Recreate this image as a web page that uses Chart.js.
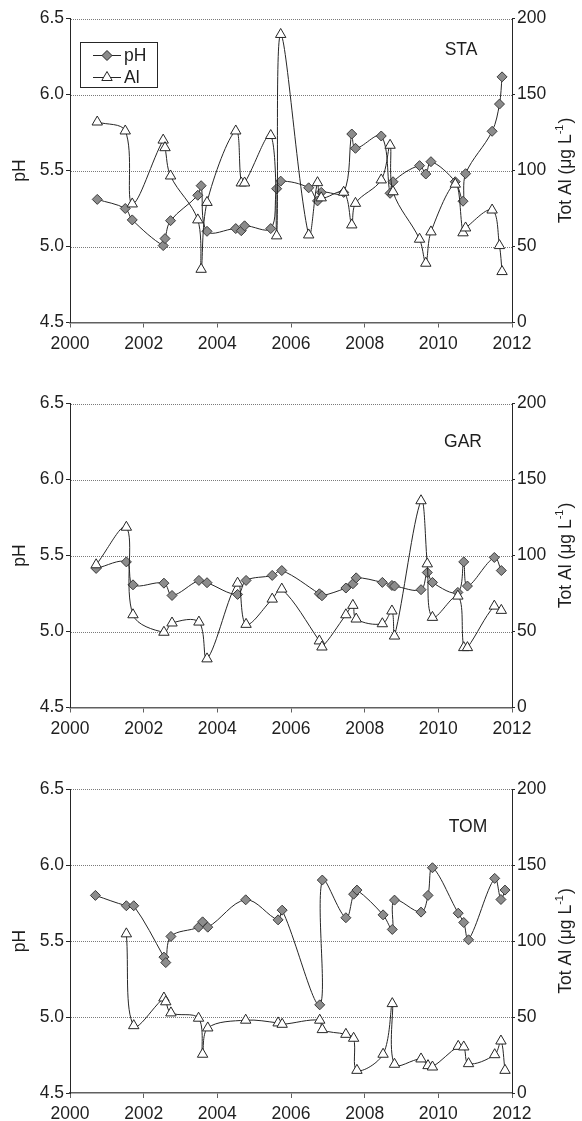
<!DOCTYPE html>
<html>
<head>
<meta charset="utf-8">
<title>pH and total Al at STA, GAR and TOM, 2000–2012</title>
<script src="https://cdn.jsdelivr.net/npm/chart.js@4.4.1/dist/chart.umd.min.js"></script>
<style>
  html, body { margin: 0; padding: 0; background: #fff; }
  body { width: 582px; height: 1121px; position: relative; overflow: hidden; }
  .panel { position: absolute; left: 0; width: 582px; }
  canvas { display: block; }
</style>
</head>
<body>
<div class="panel" style="top:0px;height:370px"><canvas id="sta" width="582" height="370"></canvas></div>
<div class="panel" style="top:385px;height:370px"><canvas id="gar" width="582" height="370"></canvas></div>
<div class="panel" style="top:770px;height:351px"><canvas id="tom" width="582" height="351"></canvas></div>
<script>
// Axis tick labels
const yearTicks = ['2000', '2002', '2004', '2006', '2008', '2010', '2012'];
const phTicks = ['4.5', '5.0', '5.5', '6.0', '6.5'];
const alTicks = ['0', '50', '100', '150', '200'];

// STA: sampling dates (decimal year), pH and total Al (µg/L)
const staDates = [2000.74, 2001.50, 2001.69, 2002.53, 2002.58, 2002.73, 2003.47, 2003.56, 2003.72,
  2004.50, 2004.65, 2004.74, 2005.45, 2005.61, 2005.72, 2006.48, 2006.72, 2006.82, 2007.43,
  2007.65, 2007.75, 2008.45, 2008.69, 2008.77, 2009.49, 2009.66, 2009.80, 2010.46, 2010.67,
  2010.74, 2011.46, 2011.66, 2011.73];
const staPH = [5.31, 5.25, 5.175, 5.006, 5.052, 5.17, 5.337, 5.40, 5.10,
  5.118, 5.104, 5.136, 5.118, 5.38, 5.43, 5.386, 5.30, 5.356, 5.356,
  5.74, 5.646, 5.727, 5.35, 5.426, 5.532, 5.477, 5.558, 5.426, 5.298,
  5.479, 5.758, 5.937, 6.116];
const staAl = [131.9, 126, 78, 120, 115, 96.4, 67.5, 35, 79,
  126, 91.8, 91.8, 123, 57, 189.5, 57.6, 92, 82, 85.7,
  64.2, 78.4, 93.8, 116.6, 86, 54.8, 39, 59.6, 91, 59,
  62.2, 74, 50.6, 33.5];

// GAR
const garDates = [2000.71, 2001.53, 2001.71, 2002.55, 2002.77, 2003.50, 2003.72, 2004.55, 2004.78,
  2005.49, 2005.75, 2006.77, 2006.84, 2007.49, 2007.68, 2007.77, 2008.48, 2008.74, 2008.81,
  2009.53, 2009.70, 2009.84, 2010.53, 2010.69, 2010.79, 2011.52, 2011.71];
const garPH = [5.415, 5.458, 5.307, 5.318, 5.237, 5.336, 5.321, 5.244, 5.336,
  5.369, 5.401, 5.248, 5.235, 5.286, 5.314, 5.353, 5.323, 5.303, 5.299,
  5.275, 5.388, 5.323, 5.257, 5.458, 5.299, 5.487, 5.401];
const garAl = [93.9, 118.6, 61, 49.5, 55.6, 56.2, 32, 81.8, 54.7,
  71.3, 77.9, 43.8, 39.8, 61, 67.2, 58.2, 55.1, 63.5, 47,
  136, 94.5, 59.3, 73.3, 39.4, 39.4, 66.7, 63.9];

// TOM (no Al result for the first sample)
const tomDates = [2000.69, 2001.53, 2001.73, 2002.55, 2002.60, 2002.74, 2003.49, 2003.60, 2003.74,
  2004.77, 2005.65, 2005.76, 2006.78, 2006.85, 2007.49, 2007.70, 2007.79, 2008.50, 2008.75,
  2008.81, 2009.53, 2009.72, 2009.84, 2010.54, 2010.69, 2010.82, 2011.53, 2011.70, 2011.81];
const tomPH = [5.80, 5.732, 5.732, 5.394, 5.358, 5.530, 5.591, 5.626, 5.591,
  5.771, 5.639, 5.703, 5.080, 5.901, 5.653, 5.808, 5.835, 5.672, 5.576,
  5.769, 5.690, 5.800, 5.982, 5.683, 5.622, 5.508, 5.912, 5.773, 5.835];
const tomAl = [null, 104.7, 44.3, 62.5, 60, 52.7, 49.2, 25.5, 42.8,
  47.9, 46.1, 45.2, 47.9, 41.7, 38.6, 36, 14.9, 25.5, 58.8,
  18.9, 22.4, 18, 17.1, 30.7, 30.3, 19.3, 25.2, 34.2, 14.9];

const FONT = "'Liberation Sans', Arial, Helvetica, sans-serif";
const FS = 17.5;
const TEXT = '#1e1e1e';
const LINE = '#262626';
Chart.defaults.font.family = FONT;
Chart.defaults.font.size = FS;
Chart.defaults.color = TEXT;

function pairs(dates, values) {
  const out = [];
  dates.forEach((d, i) => { if (values[i] !== null) out.push({ x: d, y: values[i] }); });
  return out;
}

// Dotted horizontal grid at each pH tick, panel label, axis titles and (optionally) legend
const panelExtras = {
  id: 'panelExtras',
  beforeDatasetsDraw(chart, args, opts) {
    const { ctx, chartArea } = chart;
    const y = chart.scales.y;
    ctx.save();
    ctx.strokeStyle = '#7a7a7a';
    ctx.lineWidth = 1;
    ctx.setLineDash([1, 1]);
    y.ticks.forEach(t => {
      if (t.value <= y.min) return;
      const py = Math.round(y.getPixelForValue(t.value)) + 0.5;
      ctx.beginPath();
      ctx.moveTo(chartArea.left + 1, py);
      ctx.lineTo(chartArea.right, py);
      ctx.stroke();
    });
    ctx.restore();
  },
  afterDraw(chart, args, opts) {
    const { ctx, chartArea } = chart;
    const cy = (chartArea.top + chartArea.bottom) / 2;
    ctx.save();
    ctx.fillStyle = TEXT;

    // site name
    ctx.font = `${FS}px ${FONT}`;
    ctx.textAlign = 'center';
    ctx.textBaseline = 'middle';
    ctx.fillText(opts.site, opts.siteX, chartArea.top + opts.siteDy);

    // left axis title
    ctx.save();
    ctx.translate(20, cy);
    ctx.rotate(-Math.PI / 2);
    ctx.fillText('pH', 0, 0);
    ctx.restore();

    // right axis title with superscript unit exponent
    ctx.save();
    ctx.translate(566, cy);
    ctx.rotate(-Math.PI / 2);
    const main = 'Tot Al (\u03bcg L', sup = '-1', tail = ')';
    ctx.font = `${FS}px ${FONT}`;
    const w1 = ctx.measureText(main).width;
    const w3 = ctx.measureText(tail).width;
    ctx.font = `11px ${FONT}`;
    const w2 = ctx.measureText(sup).width + 1;
    let x = -(w1 + w2 + w3) / 2;
    ctx.textAlign = 'left';
    ctx.font = `${FS}px ${FONT}`;
    ctx.fillText(main, x, 0); x += w1;
    ctx.font = `11px ${FONT}`;
    ctx.fillText(sup, x, -6); x += w2;
    ctx.font = `${FS}px ${FONT}`;
    ctx.fillText(tail, x, 0);
    ctx.restore();

    if (opts.legend) {
      const bx = 80.5, by = 42.5, bw = 77, bh = 45;
      ctx.fillStyle = '#fff';
      ctx.fillRect(bx, by, bw, bh);
      ctx.strokeStyle = LINE;
      ctx.lineWidth = 1;
      ctx.strokeRect(bx, by, bw, bh);
      const rows = [
        { label: 'pH', y: 55, style: 'rectRot', r: 5, fill: '#8c8c8c' },
        { label: 'Al', y: 77, style: 'triangle', r: 6, fill: '#ffffff' }
      ];
      rows.forEach(row => {
        ctx.strokeStyle = LINE;
        ctx.lineWidth = 1;
        ctx.beginPath();
        ctx.moveTo(93, row.y + 0.5);
        ctx.lineTo(121, row.y + 0.5);
        ctx.stroke();
        ctx.fillStyle = row.fill;
        ctx.strokeStyle = LINE;
        Chart.helpers.drawPoint(ctx, { pointStyle: row.style, radius: row.r, borderWidth: 1, rotation: 0 }, 107, row.y + 0.5);
        ctx.fillStyle = TEXT;
        ctx.font = `${FS}px ${FONT}`;
        ctx.textAlign = 'left';
        ctx.textBaseline = 'middle';
        ctx.fillText(row.label, 124, row.y + 1);
      });
    }
    ctx.restore();
  }
};

function makePanel(id, dates, ph, al, cfg) {
  const xMin = Number(yearTicks[0]), xMax = Number(yearTicks[yearTicks.length - 1]);
  const pMin = Number(phTicks[0]), pMax = Number(phTicks[phTicks.length - 1]);
  const aMin = Number(alTicks[0]), aMax = Number(alTicks[alTicks.length - 1]);
  return new Chart(document.getElementById(id), {
    type: 'line',
    data: {
      datasets: [
        {
          label: 'Al',
          data: pairs(dates, al),
          yAxisID: 'y1',
          order: 0,
          borderColor: LINE,
          borderWidth: 1,
          tension: 0.35,
          pointStyle: 'triangle',
          pointRadius: 6,
          pointBackgroundColor: '#ffffff',
          pointBorderColor: LINE,
          pointBorderWidth: 1,
          fill: false
        },
        {
          label: 'pH',
          data: pairs(dates, ph),
          yAxisID: 'y',
          order: 1,
          borderColor: LINE,
          borderWidth: 1,
          tension: 0.35,
          pointStyle: 'rectRot',
          pointRadius: 5,
          pointBackgroundColor: '#8c8c8c',
          pointBorderColor: '#3a3a3a',
          pointBorderWidth: 1,
          fill: false
        }
      ]
    },
    options: {
      responsive: false,
      animation: false,
      events: [],
      layout: { padding: { top: cfg.top, left: 0, right: 0, bottom: 0 } },
      scales: {
        x: {
          type: 'linear',
          position: 'bottom',
          min: xMin,
          max: xMax,
          afterFit(s) { s.height = cfg.xHeight; },
          border: { display: true, color: '#606060', width: 1.5 },
          grid: { drawOnChartArea: false, drawTicks: true, tickLength: 5, color: '#606060' },
          ticks: {
            stepSize: 2,
            padding: 6,
            maxRotation: 0,
            autoSkip: false,
            color: TEXT,
            callback: v => yearTicks[Math.round((v - xMin) / 2)]
          }
        },
        y: {
          position: 'left',
          min: pMin,
          max: pMax,
          afterFit(s) { s.width = 70; },
          border: { display: true, color: LINE, width: 1 },
          grid: { drawOnChartArea: false, drawTicks: true, tickLength: 4, color: LINE },
          ticks: {
            stepSize: 0.5,
            padding: 2,
            color: TEXT,
            callback: v => phTicks[Math.round((v - pMin) / 0.5)]
          }
        },
        y1: {
          position: 'right',
          min: aMin,
          max: aMax,
          afterFit(s) { s.width = 70; },
          border: { display: true, color: LINE, width: 1 },
          grid: { drawOnChartArea: false, drawTicks: true, tickLength: 3, color: LINE },
          ticks: {
            stepSize: 50,
            padding: 2,
            color: TEXT,
            callback: v => alTicks[Math.round((v - aMin) / 50)]
          }
        }
      },
      plugins: {
        legend: { display: false },
        tooltip: { enabled: false },
        panelExtras: cfg.extras
      }
    },
    plugins: [panelExtras]
  });
}

makePanel('sta', staDates, staPH, staAl, {
  top: 18.5, xHeight: 47.5,
  extras: { site: 'STA', siteX: 461, siteDy: 31.5, legend: true }
});
makePanel('gar', garDates, garPH, garAl, {
  top: 18.5, xHeight: 47.5,
  extras: { site: 'GAR', siteX: 463, siteDy: 38.5, legend: false }
});
makePanel('tom', tomDates, tomPH, tomAl, {
  top: 19, xHeight: 28,
  extras: { site: 'TOM', siteX: 468, siteDy: 38.5, legend: false }
});
</script>
</body>
</html>
